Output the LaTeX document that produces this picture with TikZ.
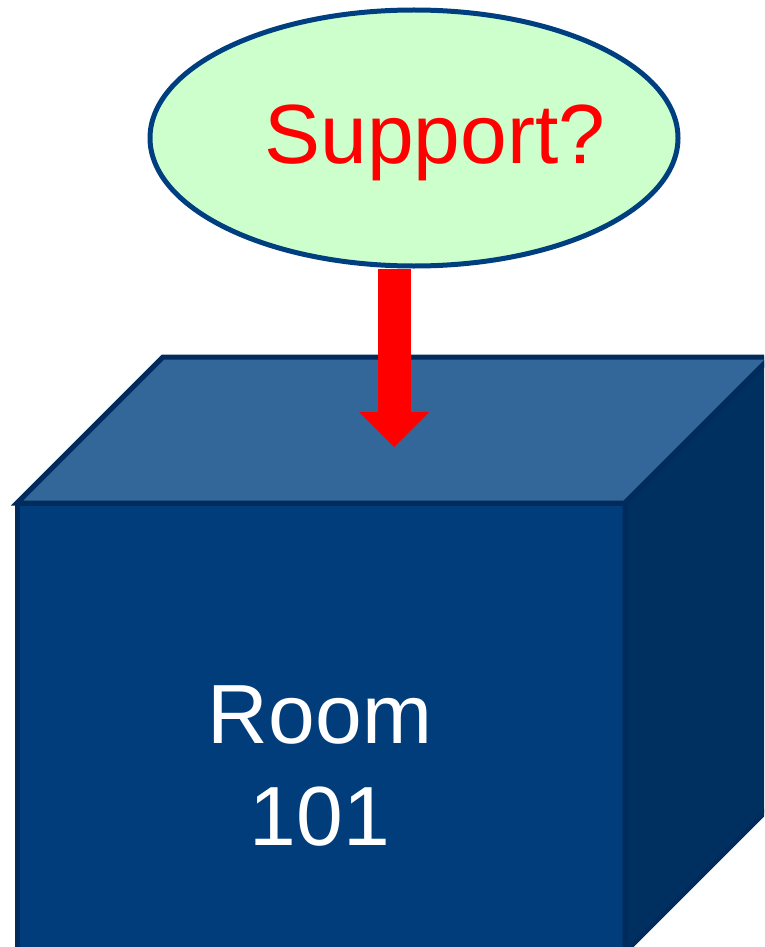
\documentclass[tikz,border=0pt]{standalone}
\usepackage{fontspec}
\setmainfont{Liberation Sans}
\usepackage{tikz}
\usepackage{xcolor}
\usetikzlibrary{positioning,shapes.geometric,arrows.meta}

\definecolor{edgeblue}{HTML}{002B5C}
\definecolor{frontblue}{HTML}{003D7A}
\definecolor{topblue}{HTML}{336699}
\definecolor{sideblue}{HTML}{003060}
\definecolor{bubblegreen}{HTML}{CCFFCC}
\definecolor{rimblue}{HTML}{003F7F}

\begin{document}
\begin{tikzpicture}[
x=1pt, y=-1pt,
face/.style={draw=edgeblue, line width=5pt, line join=miter},
bubble/.style={ellipse, draw=rimblue, fill=bubblegreen, line width=5pt, inner sep=0pt, minimum width=528pt, minimum height=256pt},
bigtext/.style={inner sep=0pt, font=\fontsize{84}{102}\selectfont}
]
\useasboundingbox (0,0) rectangle (764,947);
\clip (0,0) rectangle (764,947);

% the box
\coordinate (fl) at (17,503);
\coordinate (fr) at (625,503);
\coordinate (bl) at (163,357);
\coordinate (br) at (771,357);
\draw[face, fill=frontblue] (fl) -- (fr) -- (625,952) -- (17,952) -- cycle;
\draw[face, fill=topblue] (fl) -- (bl) -- (br) -- (fr) -- cycle;
\draw[face, fill=sideblue] (fr) -- (br) -- (771,806) -- (625,952) -- cycle;

\node (room) [bigtext, text=white, align=center, anchor=base] at (320,845) {Room\\101};

% the question
\coordinate (tip) at (394,447);
\node (support) [bubble] at (414,138) {};
\draw[red, line width=33pt, -{Triangle[length=35pt, width=70pt, line width=0pt]}] (support.south -| tip) -- (tip);
\node (quest) [bigtext, text=red, anchor=base] at (435,163) {Support?};

\end{tikzpicture}
\end{document}
